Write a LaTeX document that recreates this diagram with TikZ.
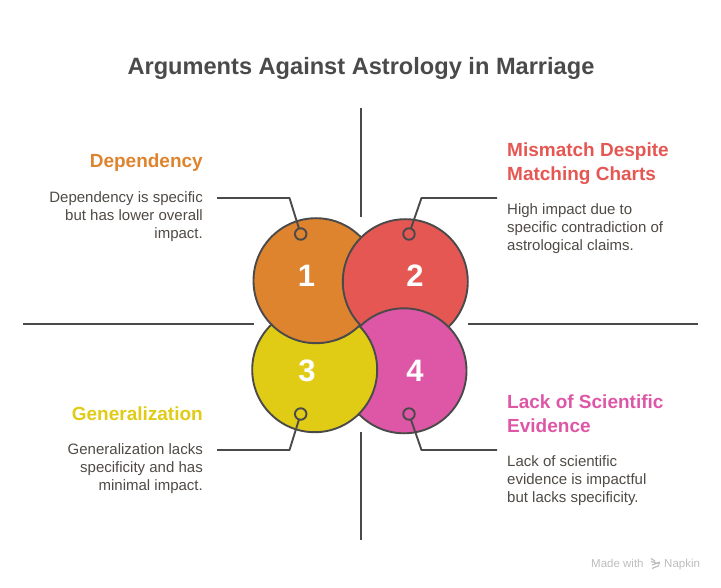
\documentclass[tikz,border=0pt]{standalone}
\usepackage{fontspec}
\setmainfont{Liberation Sans}
\definecolor{ink}{HTML}{4A4A4A}
\definecolor{bodyc}{HTML}{4F4A45}
\definecolor{c1}{HTML}{DE832E}
\definecolor{c2}{HTML}{E55753}
\definecolor{c3}{HTML}{E0CB15}
\definecolor{c4}{HTML}{DE57A7}
\definecolor{mark}{HTML}{BDBDBD}
\tikzset{
  disc/.style={circle,draw=ink,line width=1.9pt,minimum size=125pt,inner sep=0pt,outer sep=0pt},
  dot/.style={circle,draw=ink,line width=1.9pt,minimum size=11.5pt,inner sep=0pt,outer sep=0pt},
  num/.style={text=white,font=\fontsize{31}{31}\selectfont\bfseries,inner sep=0pt},
  wire/.style={draw=ink,line width=1.9pt},
  titletext/.style={text=ink,font=\fontsize{23.6}{28}\selectfont\bfseries,inner sep=0pt},
  head/.style={font=\fontsize{19}{24}\selectfont\bfseries,inner sep=0pt,align=left,anchor=north west},
  headr/.style={font=\fontsize{19}{24}\selectfont\bfseries,inner sep=0pt,anchor=east},
  bodyl/.style={text=bodyc,font=\fontsize{15}{18}\selectfont,inner sep=0pt,align=left,anchor=north west},
  bodyr/.style={text=bodyc,font=\fontsize{15}{18}\selectfont,inner sep=0pt,align=right,anchor=north east},
}
\begin{document}
\begin{tikzpicture}[x=1pt,y=-1pt]
\useasboundingbox (0,0) rectangle (721,588);
\node[titletext] (title) at (361,68) {Arguments Against Astrology in Marriage};

\coordinate (vt1) at (361,108); \coordinate (vt2) at (361,217);
\coordinate (vb1) at (361,432); \coordinate (vb2) at (361,540);
\coordinate (hl1) at (23,324);  \coordinate (hl2) at (254,324);
\coordinate (hr1) at (468,324); \coordinate (hr2) at (698,324);
\draw[wire] (vt1) -- (vt2);
\draw[wire] (vb1) -- (vb2);
\draw[wire] (hl1) -- (hl2);
\draw[wire] (hr1) -- (hr2);

\node[disc,fill=c3] (d3) at (314.7,369.7) {};
\node[disc,fill=c1] (d1) at (316,280.7) {};
\node[disc,fill=c2] (d2) at (405.3,281.7) {};
\node[disc,fill=c4] (d4) at (404,370.8) {};
\begin{scope}
  \clip (404,370.8) circle (65);
  \clip (330,326) rectangle (400,430);
  \node[disc,fill=c3] (d3b) at (314.7,369.7) {};
\end{scope}
\begin{scope}
  \clip (335,325.5) rectangle (361,345);
  \node[disc,fill=c1] (d1b) at (316,280.7) {};
\end{scope}

\node[num] (n1) at (306.5,275.5) {1};
\node[num] (n2) at (415,275.5) {2};
\node[num] (n3) at (307,371) {3};
\node[num] (n4) at (415,371) {4};

\node[dot] (p1) at (300.7,234) {};
\node[dot] (p2) at (409,234) {};
\node[dot] (p3) at (300.7,414) {};
\node[dot] (p4) at (409,414) {};

\coordinate (e1) at (289.5,198); \coordinate (t1) at (217,198);
\coordinate (e2) at (421.5,198); \coordinate (t2) at (497,198);
\coordinate (e3) at (289.5,450); \coordinate (t3) at (217,450);
\coordinate (e4) at (421.5,450); \coordinate (t4) at (497,450);
\draw[wire,line join=round] (p1) -- (e1) -- (t1);
\draw[wire,line join=round] (p2) -- (e2) -- (t2);
\draw[wire,line join=round] (p3) -- (e3) -- (t3);
\draw[wire,line join=round] (p4) -- (e4) -- (t4);

\node[headr,text=c1] (h1) at (203,162.5) {Dependency};
\node[bodyr] (b1) at (203,191) {Dependency is specific\\but has lower overall\\impact.};
\node[head,text=c2] (h2) at (507,142.5) {Mismatch Despite\\Matching Charts};
\node[bodyl] (b2) at (507,203) {High impact due to\\specific contradiction of\\astrological claims.};
\node[headr,text=c3] (h3) at (203,413.5) {Generalization};
\node[bodyr] (b3) at (203,443) {Generalization lacks\\specificity and has\\minimal impact.};
\node[head,text=c4] (h4) at (507,394.5) {Lack of Scientific\\Evidence};
\node[bodyl] (b4) at (507,455) {Lack of scientific\\evidence is impactful\\but lacks specificity.};

\node[text=mark,font=\fontsize{11.5}{14}\selectfont,inner sep=0pt,anchor=base west] (m1) at (591,567) {Made with};
\node[text=mark,font=\fontsize{11.5}{14}\selectfont,inner sep=0pt,anchor=base west] (m2) at (664,567) {Napkin};
\draw[draw=mark,line width=1.2pt] (651,558.5) -- (655,561) (651,561.5) -- (660,564) (652,565) -- (660,562) (652,568.5) -- (659,565.5);
\end{tikzpicture}
\end{document}
